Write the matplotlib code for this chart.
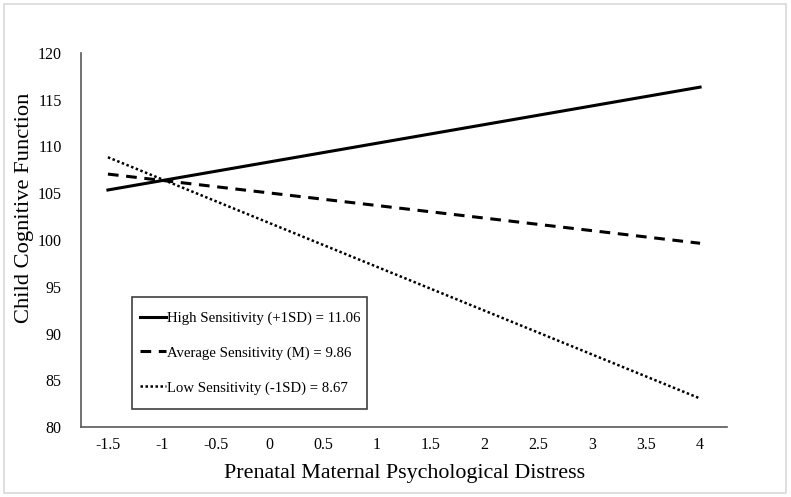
import matplotlib.pyplot as plt
from matplotlib.patches import Rectangle

plt.rcParams['font.family'] = ['Liberation Serif', 'DejaVu Serif']

# Simple slopes data (endpoints)
x_vals = [-1.5, 4]
high = [105.35, 116.35]
average = [107.05, 99.65]
low = [108.85, 83.05]
labels = ['High Sensitivity (+1SD) = 11.06',
          'Average Sensitivity (M) = 9.86',
          'Low Sensitivity (-1SD) = 8.67']
x_ticks = [-1.5, -1, -0.5, 0, 0.5, 1, 1.5, 2, 2.5, 3, 3.5, 4]
x_ticklabels = ['-1.5', '-1', '-0.5', '0', '0.5', '1', '1.5', '2', '2.5', '3', '3.5', '4']
y_ticks = [80, 85, 90, 95, 100, 105, 110, 115, 120]

fig = plt.figure(figsize=(7.91, 4.97), dpi=100)
ax = fig.add_axes([81/791, 1 - 427/497, (727 - 81)/791, (427 - 53)/497])

ax.plot(x_vals, high, color='black', lw=2.2, ls='-', label=labels[0])
ax.plot(x_vals, average, color='black', lw=2.2, ls=(0, (3.5, 2.5)), label=labels[1])
ax.plot(x_vals, low, color='black', lw=1.8, ls=(0, (1, 1)), label=labels[2])

ax.set_xlim(-1.75, 4.25)
ax.set_ylim(80, 120)
ax.set_xticks(x_ticks)
ax.set_xticklabels(x_ticklabels)
ax.set_yticks(y_ticks)
ax.tick_params(length=0, labelsize=11.5)
ax.tick_params(axis='x', pad=7)
ax.tick_params(axis='y', pad=14)
for s in ['top', 'right']:
    ax.spines[s].set_visible(False)
for s in ['left', 'bottom']:
    ax.spines[s].set_color('#595959')
    ax.spines[s].set_linewidth(1.2)

ax.set_xlabel('Prenatal Maternal Psychological Distress', fontsize=15.8, va='center')
ax.xaxis.set_label_coords(0.5015, -0.123)
ax.set_ylabel('Child Cognitive Function', fontsize=16.2, va='center')
ax.yaxis.set_label_coords(-0.0867, 0.5856)

# legend text without frame, box drawn separately to match the tight side padding
leg = ax.legend(loc='center', bbox_to_anchor=(0.262, 0.198), fontsize=10.6,
                frameon=False, handlelength=1.8, handletextpad=0.1,
                labelspacing=1.45, borderpad=0, borderaxespad=0)
ax.add_patch(Rectangle(((132 - 81)/646, (427 - 409)/374), 235/646, 112/374,
                       transform=ax.transAxes, fill=False, edgecolor='#404040',
                       lw=1.2, zorder=1))

# light grey border round the whole picture
fig.patches.append(Rectangle((4/791, 4/497), 782/791, 489/497, transform=fig.transFigure,
                             fill=False, edgecolor='#d9d9d9', lw=1.2))

fig.savefig('out.png', dpi=100)
